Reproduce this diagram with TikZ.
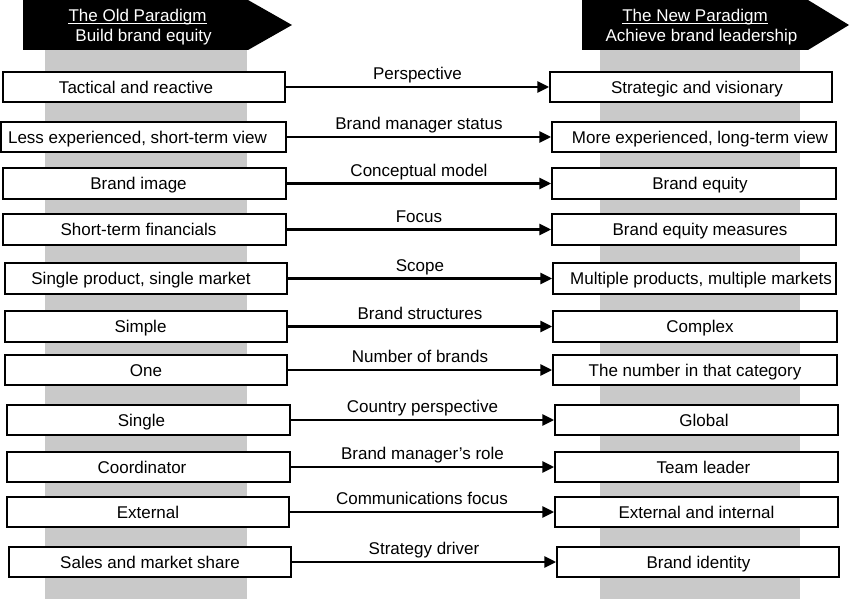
\documentclass[tikz,border=0pt]{standalone}
\usepackage{fontspec}
\setmainfont{Liberation Sans}
\usetikzlibrary{arrows.meta,calc}
\definecolor{band}{RGB}{201,201,201}
\tikzset{
  boxshape/.style={draw=black, line width=1.5bp, fill=white, inner sep=0pt},
  boxtext/.style={inner sep=0pt, text height=12.2bp, text depth=0pt, font=\fontsize{17bp}{20bp}\selectfont},
  conn/.style={line width=2.9bp, -{Triangle[length=12bp,width=11bp]}},
  connlabel/.style={boxtext, yshift=13.5bp},
  headtext/.style={boxtext, text=white},
  headshape/.style={fill=black},
  ulstyle/.style={draw=white, line width=1.1bp},
}
% name, x1, y1, x2, y2, text centre x, text
\newcommand\rowbox[7]{%
  \node[boxshape, minimum width={#4bp-#2bp}, minimum height={#5bp-#3bp}] (#1) at ({(#2+#4)/2},{(#3+#5)/2}) {};
  \node[boxtext] (#1-t) at (#6,{(#3+#5)/2}) {#7};
}
\begin{document}
\begin{tikzpicture}[x=1bp,y=-1bp]
\useasboundingbox (0,0) rectangle (850,602);
% grey bands
\fill[band] (45,50) rectangle (247,599);
\fill[band] (600,50) rectangle (800,599);
% headers
\fill[headshape] (23,0) -- (248,0) -- (292,25) -- (248,50) -- (23,50) -- cycle;
\fill[headshape] (582,0) -- (808,0) -- (849,25) -- (808,50) -- (582,50) -- cycle;
\node[headtext] (oldtitle) at (137.5,15.3) {The Old Paradigm};
\draw[ulstyle] ([yshift=-2bp]oldtitle.base west) -- ([yshift=-2bp]oldtitle.base east);
\node[headtext] (oldsub) at (143.5,35) {Build brand equity};
\node[headtext] (newtitle) at (695,15.3) {The New Paradigm};
\draw[ulstyle] ([yshift=-2bp]newtitle.base west) -- ([yshift=-2bp]newtitle.base east);
\node[headtext] (newsub) at (701.5,35) {Achieve brand leadership};
% rows
\rowbox{L1}{3}{72}{285}{102}{136}{Tactical and reactive}
\rowbox{R1}{550}{72}{832}{102}{697}{Strategic and visionary}
\rowbox{L2}{1}{122}{286}{152}{137.5}{Less experienced, short-term view}
\rowbox{R2}{552}{122}{836}{152}{700}{More experienced, long-term view}
\rowbox{L3}{3}{168}{286}{199}{138.5}{Brand image}
\rowbox{R3}{552}{168}{836}{199}{700}{Brand equity}
\rowbox{L4}{3}{214}{286}{245}{138.5}{Short-term financials}
\rowbox{R4}{552}{214}{836}{245}{700}{Brand equity measures}
\rowbox{L5}{5}{263}{287}{294}{141}{Single product, single market}
\rowbox{R5}{553}{263}{836}{294}{701}{Multiple products, multiple markets}
\rowbox{L6}{5}{311}{287}{342}{140.5}{Simple}
\rowbox{R6}{553}{311}{837}{342}{700}{Complex}
\rowbox{L7}{5}{355}{287}{385}{146}{One}
\rowbox{R7}{553}{355}{837}{385}{695}{The number in that category}
\rowbox{L8}{7}{405}{290}{435}{141.5}{Single}
\rowbox{R8}{555}{405}{838}{435}{704}{Global}
\rowbox{L9}{7}{452}{290}{482}{142}{Coordinator}
\rowbox{R9}{555}{452}{838}{482}{703.5}{Team leader}
\rowbox{L10}{7}{497}{289}{527}{148}{External}
\rowbox{R10}{555}{497}{838}{527}{696.5}{External and internal}
\rowbox{L11}{9}{547}{291}{577}{150}{Sales and market share}
\rowbox{R11}{557}{547}{839}{577}{698.5}{Brand identity}
% connectors
\draw[conn] (L1.east) -- node[connlabel] (c1) {Perspective} (R1.west);
\draw[conn] (L2.east) -- node[connlabel] (c2) {Brand manager status} (R2.west);
\draw[conn] (L3.east) -- node[connlabel] (c3) {Conceptual model} (R3.west);
\draw[conn] (L4.east) -- node[connlabel] (c4) {Focus} (R4.west);
\draw[conn] (L5.east) -- node[connlabel] (c5) {Scope} (R5.west);
\draw[conn] (L6.east) -- node[connlabel] (c6) {Brand structures} (R6.west);
\draw[conn] (L7.east) -- node[connlabel] (c7) {Number of brands} (R7.west);
\draw[conn] (L8.east) -- node[connlabel] (c8) {Country perspective} (R8.west);
\draw[conn] (L9.east) -- node[connlabel] (c9) {Brand manager’s role} (R9.west);
\draw[conn] (L10.east) -- node[connlabel] (c10) {Communications focus} (R10.west);
\draw[conn] (L11.east) -- node[connlabel] (c11) {Strategy driver} (R11.west);
\end{tikzpicture}
\end{document}
